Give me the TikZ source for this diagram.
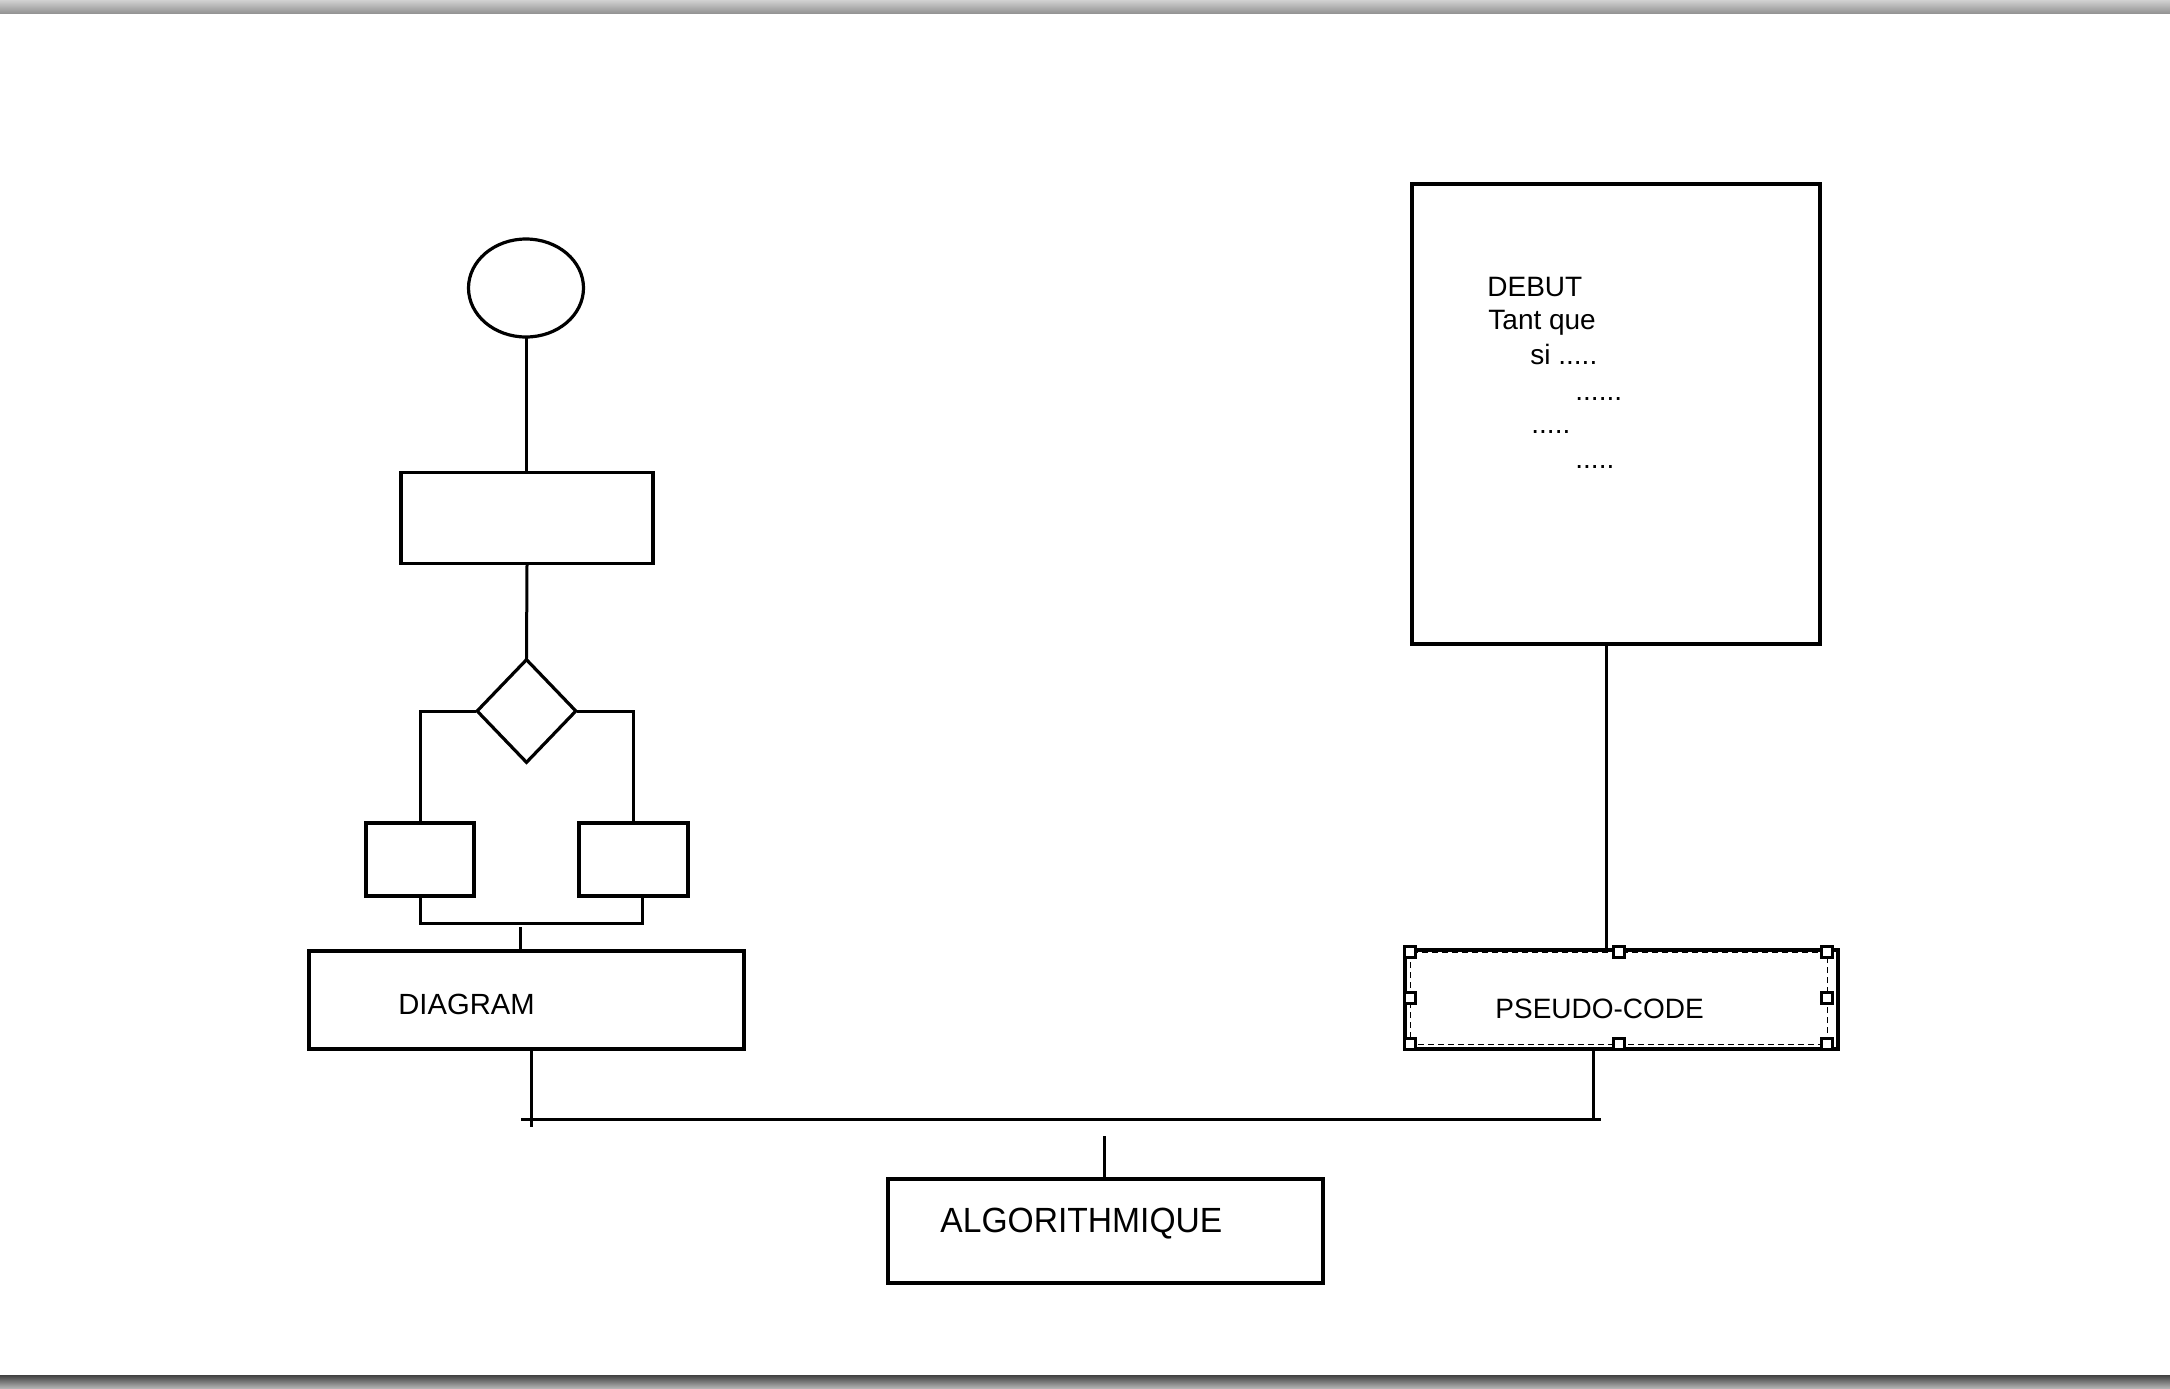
\documentclass[tikz,border=0pt]{standalone}
\usepackage{fontspec}
\setmainfont{Liberation Sans}
\usetikzlibrary{shapes.geometric}
\begin{document}
\begin{tikzpicture}[x=0.5pt,y=-0.5pt,
  shapeline/.style={draw=black, line width=1.6pt},
  box/.style={shapeline, rectangle, inner sep=0pt},
  conn/.style={line width=1.5pt, line cap=rect},
  lbl/.style={inner sep=0pt, anchor=base west, text=black},
  codetxt/.style={lbl, font=\fontsize{14}{16}\selectfont},
  handle/.style={draw=black, fill=white, line width=1.3pt, rectangle, inner sep=0pt, minimum size=5.5pt}]
\useasboundingbox (0,0) rectangle (2170,1388);
\fill[white] (0,0) rectangle (2170,1388);
\shade[top color=black!18, bottom color=black!42] (0,0) rectangle (2170,13);
\shade[top color=black!75, bottom color=black!30] (0,1375) rectangle (2170,1388);

% left flowchart
\node[shapeline, ellipse, inner sep=0pt, minimum width=57.5pt, minimum height=49pt] (start) at (526,288) {};
\node[box, minimum width=126pt, minimum height=45.5pt] (proc) at (527,518) {};
\node[shapeline, diamond, inner sep=0pt, minimum width=50pt, minimum height=52pt] (dec) at (526.5,711) {};
\node[box, minimum width=54pt, minimum height=36.5pt] (boxL) at (420,859.5) {};
\node[box, minimum width=54.5pt, minimum height=36.5pt] (boxR) at (633.5,859.5) {};
\node[box, minimum width=217.5pt, minimum height=49pt] (diagram) at (526.5,1000) {};
\node[lbl, font=\fontsize{14.6}{17}\selectfont] (diagramtext) at (398,1014) {DIAGRAM};

% right side
\node[box, minimum width=204pt, minimum height=230pt] (code) at (1616,414) {};
\node[codetxt] (l1) at (1487,296) {DEBUT};
\node[codetxt] (l2) at (1488,329) {Tant que};
\node[codetxt] (l3) at (1530,364) {si .....};
\node[codetxt] (l4) at (1575,400) {......};
\node[codetxt] (l5) at (1531,433) {.....};
\node[codetxt] (l6) at (1575,468) {.....};

\node[box, minimum width=216.5pt, minimum height=49.5pt] (pseudo) at (1621.5,999.5) {};
\draw[line width=0.5pt, dash pattern=on 3pt off 2pt] (1410,952) rectangle (1827,1044);
\node[handle] (h1) at (1410,952) {};
\node[handle] (h2) at (1619,952) {};
\node[handle] (h3) at (1827,952) {};
\node[handle] (h4) at (1410,998) {};
\node[handle] (h5) at (1827,998) {};
\node[handle] (h6) at (1410,1044) {};
\node[handle] (h7) at (1619,1044) {};
\node[handle] (h8) at (1827,1044) {};
\node[lbl, font=\fontsize{14}{16}\selectfont] (pseudotext) at (1495,1018) {PSEUDO-CODE};

% bottom
\node[box, minimum width=217.5pt, minimum height=52pt] (algo) at (1105.5,1231) {};
\node[lbl, font=\fontsize{17.5}{20}\selectfont] (algotext) at (940,1232) {\scalebox{0.96}[1]{ALGORITHMIQUE}};

% coordinates
\coordinate (jr) at (642,923);
\coordinate (tickT) at (520,928);
\coordinate (dL) at (531,1125);
\coordinate (busL) at (522,1119);
\coordinate (busR) at (1599,1119);
\coordinate (pR) at (1593,1119);
\coordinate (aT) at (1104,1137);
\coordinate (cx) at (1606,0);

% connectors
\draw[conn] (start.south) -- (start.south |- proc.north);
\draw[conn] (proc.south) -- (dec.north);
\draw[conn] (dec.west) -| (boxL.north);
\draw[conn] (dec.east) -| (boxR.north);
\draw[conn] (boxL.south) |- (jr) -- (jr |- boxR.south);
\draw[conn] (tickT) -- (tickT |- diagram.north);
\draw[conn] (diagram.south -| dL) -- (dL);
\draw[conn] (busL) -- (busR);
\draw[conn] (pseudo.south -| pR) -- (pR);
\draw[conn] (aT) -- (aT |- algo.north);
\draw[conn] (code.south -| cx) -- (pseudo.north -| cx);
\end{tikzpicture}
\end{document}
